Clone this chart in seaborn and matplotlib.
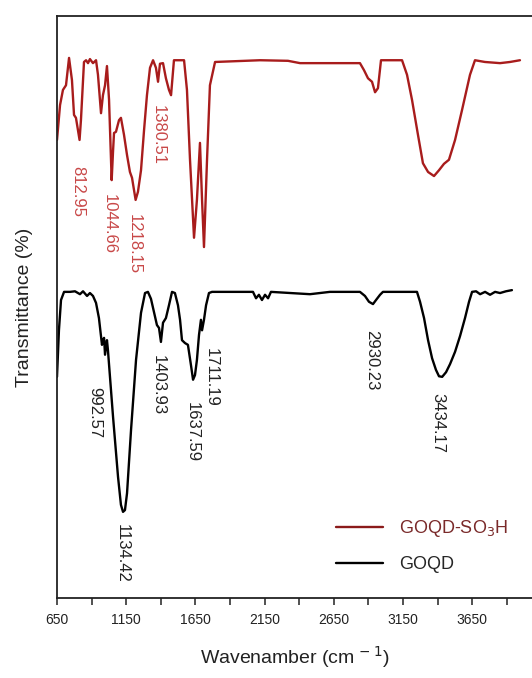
import matplotlib
matplotlib.use("Agg")
import matplotlib.pyplot as plt
import seaborn as sns
import pandas as pd

# GOQD-SO3H spectrum (wavenumber, transmittance arbitrary %)
red_wn = [650, 672, 693, 715, 737, 758, 773, 787, 813, 823, 845, 860, 874, 888, 910, 932, 946, 968, 982, 997,
          1011, 1026, 1045, 1055, 1062, 1076, 1098, 1112, 1134, 1156, 1177, 1192, 1218, 1235, 1257, 1279, 1300,
          1322, 1344, 1365, 1380, 1394, 1416, 1437, 1459, 1474, 1495, 1568, 1589, 1611, 1640, 1661, 1683, 1698,
          1712, 1734, 1755, 1792, 2117, 2319, 2406, 2839, 2868, 2897, 2926, 2948, 2969, 2991, 3143, 3179, 3215,
          3258, 3294, 3331, 3374, 3410, 3446, 3482, 3526, 3576, 3634, 3670, 3742, 3851, 3923, 3995]
red_t = [78.7, 84.7, 87.3, 88.1, 92.8, 89.0, 83.0, 82.5, 78.7, 82.1, 92.1, 92.4, 91.9, 92.6, 91.9, 92.4, 89.9,
         83.3, 86.4, 88.1, 91.4, 85.6, 71.8, 76.8, 79.9, 80.1, 82.1, 82.5, 79.6, 76.1, 73.2, 72.2, 68.4, 69.8,
         73.5, 80.4, 86.4, 91.1, 92.4, 91.1, 88.7, 91.8, 91.9, 89.3, 87.3, 86.4, 92.4, 92.4, 87.3, 75.3, 61.9,
         68.4, 78.2, 68.4, 60.3, 75.3, 88.1, 92.1, 92.4, 92.3, 91.9, 91.9, 90.7, 89.3, 88.7, 86.9, 87.6, 92.4,
         92.4, 89.9, 85.6, 79.6, 74.7, 73.2, 72.5, 73.5, 74.6, 75.3, 78.7, 83.8, 89.9, 92.4, 92.1, 91.9, 92.1, 92.4]

# GOQD spectrum
blk_wn = [650, 664, 679, 701, 744, 780, 816, 838, 867, 888, 910, 932, 953, 975, 982, 990, 997, 1011, 1018, 1055,
          1091, 1112, 1127, 1141, 1156, 1185, 1221, 1257, 1286, 1307, 1329, 1351, 1372, 1387, 1401, 1416, 1437,
          1459, 1481, 1502, 1524, 1539, 1553, 1575, 1596, 1618, 1633, 1647, 1661, 1676, 1690, 1698, 1712, 1727,
          1748, 1770, 2066, 2088, 2109, 2131, 2153, 2175, 2196, 2478, 2622, 2839, 2875, 2904, 2933, 2955, 2984,
          3005, 3251, 3273, 3302, 3331, 3360, 3388, 3410, 3433, 3461, 3490, 3526, 3562, 3598, 3627, 3649, 3678,
          3707, 3743, 3779, 3815, 3851, 3894, 3937]
blk_t = [38.0, 46.0, 51.2, 52.6, 52.6, 52.7, 52.2, 52.7, 51.9, 52.4, 51.9, 50.7, 48.1, 43.5, 44.3, 44.7, 41.8,
         44.3, 42.6, 31.1, 20.8, 16.0, 14.8, 15.1, 18.0, 28.9, 40.9, 49.0, 52.4, 52.6, 51.4, 49.1, 46.9, 46.4,
         44.0, 47.3, 48.1, 50.3, 52.6, 52.4, 50.3, 47.8, 44.3, 43.8, 43.5, 40.0, 37.5, 38.3, 40.9, 45.2, 47.8,
         46.0, 47.8, 50.3, 52.4, 52.6, 52.6, 51.5, 52.1, 51.2, 52.1, 51.5, 52.6, 52.2, 52.6, 52.6, 51.9, 50.9,
         50.5, 51.2, 52.1, 52.6, 52.6, 50.9, 48.1, 44.3, 41.2, 39.2, 38.1, 38.0, 38.8, 40.2, 42.3, 45.0, 48.1,
         50.9, 52.6, 52.7, 52.2, 52.6, 52.1, 52.6, 52.4, 52.7, 52.9]

# Peak annotations: label, x (wavenumber), top y of text
red_labels = ["812.95", "1044.66", "1218.15", "1380.51"]
red_label_x = [800, 1030, 1210, 1385]
red_label_y = [74.3, 69.4, 66.0, 84.7]
blk_labels = ["992.57", "1134.42", "1403.93", "1637.59", "1711.19", "2930.23", "3434.17"]
blk_label_x = [920, 1125, 1385, 1630, 1765, 2925, 3400]
blk_label_y = [36.2, 12.7, 41.8, 33.7, 42.9, 46.0, 35.2]

tick_vals = [650, 1150, 1650, 2150, 2650, 3150, 3650]
minor_vals = [900, 1400, 1900, 2400, 2900, 3400, 3900]

sns.set_style("white")
plt.rcParams['font.family'] = ['Liberation Sans', 'DejaVu Sans']

fig = plt.figure(figsize=(5.32, 6.78), dpi=100)
ax = fig.add_axes([57/532, 80/678, 1 - 57/532, 582/678])

red_df = pd.DataFrame({"wn": red_wn, "T": red_t})
blk_df = pd.DataFrame({"wn": blk_wn, "T": blk_t})
red_col = "#a81c1c"
sns.lineplot(data=red_df, x="wn", y="T", ax=ax, color=red_col, lw=1.7, sort=False, estimator=None,
             label="GOQD-SO$_3$H")
sns.lineplot(data=blk_df, x="wn", y="T", ax=ax, color="black", lw=1.7, sort=False, estimator=None,
             label="GOQD")

for lab, x, y in zip(red_labels, red_label_x, red_label_y):
    ax.text(x, y, lab, rotation=-90, ha="center", va="top", fontsize=12, color="#c84848")
for lab, x, y in zip(blk_labels, blk_label_x, blk_label_y):
    ax.text(x, y, lab, rotation=-90, ha="center", va="top", fontsize=12, color="#222222")

ax.set_xlim(650, 4082)
ax.set_ylim(0, 100)
ax.set_yticks([])
ax.set_xticks(tick_vals)
ax.set_xticks(minor_vals, minor=True)
ax.tick_params(axis="x", which="both", direction="out", length=5, width=1.2, colors="#333333",
               labelsize=10, pad=6, bottom=True)
for t in ax.get_xticklabels():
    t.set_color("#222222")
for s in ["left", "bottom", "top"]:
    ax.spines[s].set_color("#222222")
    ax.spines[s].set_linewidth(1.3)
ax.spines["right"].set_visible(False)

ax.set_xlabel("Wavenamber (cm$^{\\,-1}$)", fontsize=14, labelpad=12, color="#222222")
ax.set_ylabel("Transmittance (%)", fontsize=14, labelpad=18, color="#222222")
ax.yaxis.set_label_coords(-0.05, 0.5)

leg = ax.legend(loc="lower right", bbox_to_anchor=(0.985, 0.015), frameon=False, fontsize=13,
                handlelength=2.6, labelspacing=0.95, handletextpad=0.9)
leg.get_texts()[0].set_color("#7a2a2a")
leg.get_lines()[0].set_color("#8b1a1a")

fig.savefig("out.png", dpi=100)
